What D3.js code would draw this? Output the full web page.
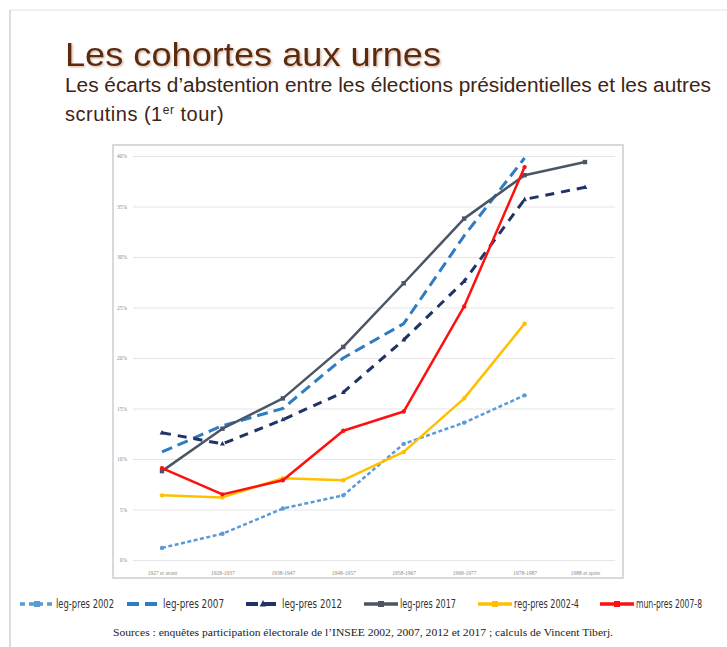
<!DOCTYPE html>
<html>
<head>
<meta charset="utf-8">
<script src="https://cdn.jsdelivr.net/npm/d3@7"></script>
<style>
  body { margin: 0; background: #fff; }
  svg { display: block; }
</style>
</head>
<body>
<div id="chart"></div>
<script>
var svgWidth = 727;
var svgHeight = 647;

// categories and tick labels
var cohorts = ["1927 et avant", "1928-1937", "1938-1947", "1948-1957", "1958-1967", "1968-1977", "1978-1987", "1988 et après"];
var yTicks = [0, 5, 10, 15, 20, 25, 30, 35, 40];

// series values (% gap in abstention), null = no value
var legPres2002 = [1.2, 2.6, 5.1, 6.4, 11.5, 13.6, 16.3, null];
var legPres2007 = [10.7, 13.3, 15.0, 20.0, 23.4, 32.1, 39.8, null];
var legPres2012 = [12.6, 11.5, 13.9, 16.6, 21.8, 27.6, 35.7, 36.9];
var legPres2017 = [8.8, 13.0, 16.0, 21.1, 27.4, 33.8, 38.1, 39.4];
var regPres2002 = [6.4, 6.2, 8.1, 7.9, 10.7, 16.0, 23.4, null];
var munPres2007 = [9.1, 6.5, 7.9, 12.8, 14.7, 25.1, 38.9, null];

var series = [
  { name: "leg-pres 2002", values: legPres2002, color: "#5b9bd5", dash: "4,2.5", width: 2.5, marker: "dot" },
  { name: "leg-pres 2007", values: legPres2007, color: "#2e7cc4", dash: "11,6", width: 3, marker: "none" },
  { name: "leg-pres 2012", values: legPres2012, color: "#1f3366", dash: "9,7", width: 3, marker: "tri" },
  { name: "leg-pres 2017", values: legPres2017, color: "#4a5566", dash: null, width: 2.5, marker: "sq" },
  { name: "reg-pres 2002-4", values: regPres2002, color: "#ffc000", dash: null, width: 2.5, marker: "dot" },
  { name: "mun-pres 2007-8", values: munPres2007, color: "#ff1010", dash: null, width: 2.5, marker: "dot" }
];

var svg = d3.select("#chart")
  .append("svg")
  .attr("width", svgWidth)
  .attr("height", svgHeight);

// soft drop shadow for the title
var defs = svg.append("defs");
var shadow = defs.append("filter").attr("id", "shadow")
  .attr("x", "-5%").attr("y", "-20%").attr("width", "110%").attr("height", "140%");
shadow.append("feDropShadow")
  .attr("dx", 1.2).attr("dy", 1.2).attr("stdDeviation", 0.8)
  .attr("flood-color", "#b08060").attr("flood-opacity", 0.6);

// slide frame
svg.append("line").attr("x1", 10).attr("x2", 10).attr("y1", 10).attr("y2", svgHeight)
  .attr("stroke", "#d0d0d0").attr("stroke-width", 1.5);
svg.append("line").attr("x1", 10).attr("x2", svgWidth).attr("y1", 10).attr("y2", 10)
  .attr("stroke", "#e2e2e2").attr("stroke-width", 1);

// title
svg.append("text")
  .attr("x", 65).attr("y", 66)
  .attr("font-family", "Liberation Sans, Arial, sans-serif")
  .attr("font-size", "34px")
  .attr("fill", "#5c2c0c")
  .attr("filter", "url(#shadow)")
  .attr("textLength", 376)
  .attr("lengthAdjust", "spacingAndGlyphs")
  .text("Les cohortes aux urnes");

svg.append("text")
  .attr("x", 65).attr("y", 92)
  .attr("font-family", "Liberation Sans, Arial, sans-serif")
  .attr("font-size", "19.5px")
  .attr("fill", "#3e2414")
  .attr("textLength", 646)
  .attr("lengthAdjust", "spacingAndGlyphs")
  .text("Les écarts d’abstention entre les élections présidentielles et les autres");

var sub2 = svg.append("text")
  .attr("x", 65).attr("y", 121)
  .attr("font-family", "Liberation Sans, Arial, sans-serif")
  .attr("font-size", "20px")
  .attr("letter-spacing", "0.5px")
  .attr("fill", "#3e2414");
sub2.append("tspan").text("scrutins (1");
sub2.append("tspan").attr("font-size", "12px").attr("dy", -7).text("er");
sub2.append("tspan").attr("dy", 7).text(" tour)");

// chart box
svg.append("rect")
  .attr("x", 113).attr("y", 145)
  .attr("width", 510).attr("height", 433)
  .attr("fill", "#fff")
  .attr("stroke", "#d9d9d9")
  .attr("stroke-width", 2);

var xScale = d3.scalePoint()
  .domain(cohorts)
  .range([162, 585]);

var yScale = d3.scaleLinear()
  .domain([0, 40])
  .range([560, 156]);

// gridlines
var leftAxis = d3.axisLeft(yScale)
  .tickValues(yTicks)
  .tickSize(-(615 - 133))
  .tickPadding(6)
  .tickFormat(d => d + "%");

var yAxis = svg.append("g")
  .attr("transform", "translate(133, 0)")
  .call(leftAxis);
yAxis.select(".domain").remove();
yAxis.selectAll(".tick line").attr("stroke", "#e6e6e6").attr("stroke-width", 1.2);
yAxis.selectAll(".tick text")
  .attr("font-family", "Liberation Serif, serif")
  .attr("font-size", "5.5px")
  .attr("fill", "#8a8a8a");

var bottomAxis = d3.axisBottom(xScale).tickSize(0).tickPadding(8);
var xAxis = svg.append("g")
  .attr("transform", "translate(0, 563)")
  .call(bottomAxis);
xAxis.select(".domain").remove();
xAxis.selectAll(".tick text")
  .attr("font-family", "Liberation Serif, serif")
  .attr("font-size", "5.5px")
  .attr("fill", "#8a8a8a");

// lines
var line = d3.line()
  .defined(d => d.v !== null)
  .x(d => xScale(d.c))
  .y(d => yScale(d.v));

function drawMarker(g, kind, x, y, color, size) {
  if (kind === "dot") {
    g.append("circle").attr("cx", x).attr("cy", y).attr("r", size).attr("fill", color);
  } else if (kind === "sq") {
    g.append("rect").attr("x", x - size).attr("y", y - size)
      .attr("width", size * 2).attr("height", size * 2).attr("fill", color);
  } else if (kind === "tri") {
    g.append("path")
      .attr("d", `M${x},${y - size * 1.3}L${x + size * 1.1},${y + size * 0.8}L${x - size * 1.1},${y + size * 0.8}Z`)
      .attr("fill", color);
  }
}

var linesGroup = svg.append("g");
series.forEach(function(s) {
  var pts = cohorts.map((c, i) => ({ c: c, v: s.values[i] }));
  linesGroup.append("path")
    .datum(pts)
    .attr("d", line)
    .attr("fill", "none")
    .attr("stroke", s.color)
    .attr("stroke-width", s.width)
    .attr("stroke-linejoin", "round")
    .attr("stroke-dasharray", s.dash);
  pts.filter(d => d.v !== null).forEach(function(d) {
    drawMarker(linesGroup, s.marker, xScale(d.c), yScale(d.v), s.color, 2.2);
  });
});

// legend
var legendX = [20, 127, 246, 364, 478, 600];
var legend = svg.append("g").attr("transform", "translate(0, 604)");
series.forEach(function(s, i) {
  var g = legend.append("g").attr("transform", `translate(${legendX[i]}, 0)`);
  g.append("line")
    .attr("x1", 0).attr("x2", 34).attr("y1", 0).attr("y2", 0)
    .attr("stroke", s.color)
    .attr("stroke-width", s.width + 1)
    .attr("stroke-dasharray", s.dash ? (i === 0 ? "5,4" : "12,6") : null);
  drawMarker(g, s.marker === "none" ? "none" : (s.marker === "dot" ? "sq" : s.marker), 17, 0, s.color, 3);
  g.append("text")
    .attr("x", 36).attr("y", 4)
    .attr("font-family", "Liberation Sans Narrow, DejaVu Sans Condensed, Arial Narrow, sans-serif")
    .attr("font-size", "11.5px")
    .attr("fill", "#333")
    .attr("textLength", [58, 61, 60, 56, 65, 66][i])
    .attr("lengthAdjust", "spacingAndGlyphs")
    .text(s.name);
});

// source note
svg.append("text")
  .attr("x", 363).attr("y", 636)
  .attr("text-anchor", "middle")
  .attr("font-family", "Liberation Serif, Times New Roman, serif")
  .attr("font-size", "10px")
  .attr("fill", "#222")
  .attr("textLength", 500)
  .attr("lengthAdjust", "spacingAndGlyphs")
  .text("Sources : enquêtes participation électorale de l’INSEE 2002, 2007, 2012 et 2017 ; calculs de Vincent Tiberj.");
</script>
</body>
</html>
